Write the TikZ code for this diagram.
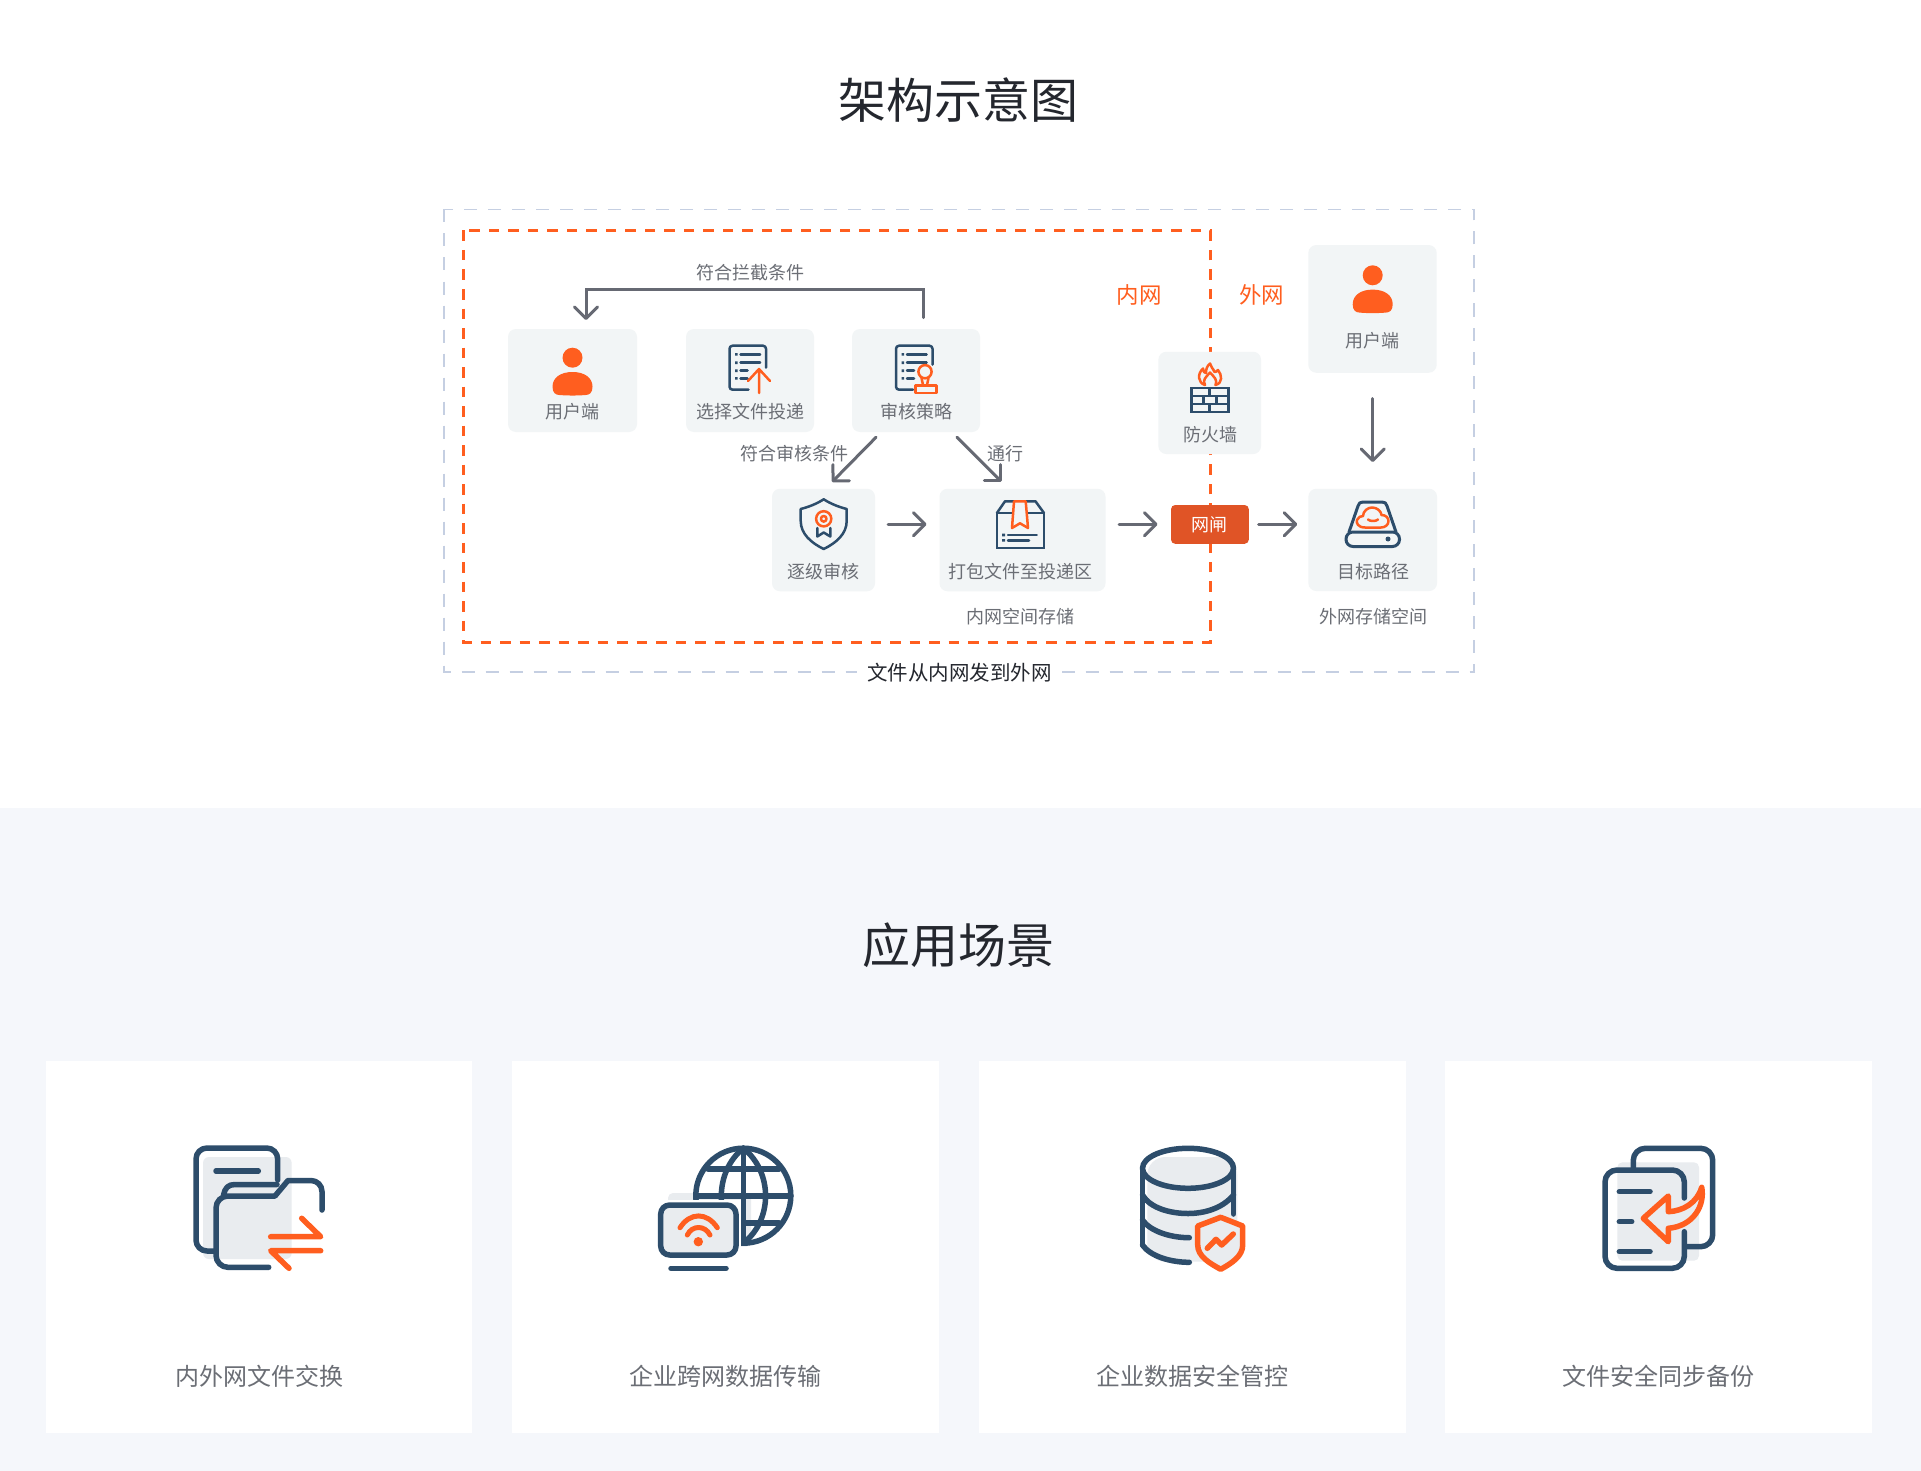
\documentclass[tikz,border=0pt]{standalone}
\usepackage{fontspec}
\setmainfont{Noto Sans CJK SC}
\usetikzlibrary{arrows.meta}
\definecolor{navy}{HTML}{2D4D6B}
\definecolor{org}{HTML}{FF5E1F}
\definecolor{gatec}{HTML}{E05426}
\definecolor{boxc}{HTML}{F2F5F6}
\definecolor{linec}{HTML}{666973}
\definecolor{txtc}{HTML}{6B6E75}
\definecolor{darkc}{HTML}{24272E}
\definecolor{pagec}{HTML}{F5F7FB}
\definecolor{greyc}{HTML}{E9ECEF}
\definecolor{outc}{HTML}{C5CFE2}
\tikzset{
  boxn/.style={fill=boxc,rounded corners=8pt,inner sep=0pt},
  lab/.style={text=txtc,inner sep=0pt,font=\fontsize{18}{22}\selectfont},
  ttl/.style={text=darkc,inner sep=0pt,font=\fontsize{48}{56}\selectfont},
  nettxt/.style={text=org,inner sep=0pt,font=\fontsize{22.5}{26}\selectfont},
  cardn/.style={fill=white,inner sep=0pt,minimum width=426.6pt,minimum height=372pt},
  cardt/.style={text=txtc,inner sep=0pt,font=\fontsize{24}{28}\selectfont},
  conn/.style={draw=linec,line width=3pt,-{Straight Barb[length=11.5pt,width=23pt,round]},line cap=round},
  ns/.style={draw=navy,line width=2.5pt,line cap=round,line join=round},
  os/.style={draw=org,line width=2.5pt,line cap=round,line join=round},
  nb/.style={draw=navy,line width=5.5pt,line cap=round,line join=round},
  ob/.style={draw=org,line width=5.5pt,line cap=round,line join=round},
}
\newcommand{\personicon}[2]{%
  \fill[org] (#1,#2) circle (10);
  \begin{scope}[shift={(#1,#2)}]
  \fill[org] (-20,29) .. controls (-20,20) and (-12,14.3) .. (0,14.3) .. controls (12,14.3) and (20,20) .. (20,29) .. controls (20,35) and (17,37.3) .. (13,37.3) .. controls (5,38) and (-5,38) .. (-13,37.3) .. controls (-17,37.3) and (-20,35) .. (-20,29) -- cycle;
  \end{scope}}
\newcommand{\docicon}[4]{%
  \begin{scope}[shift={(#1,#2)}]
  \draw[ns,rounded corners=3pt] (36.5,#3) -- (36.5,0) -- (0,0) -- (0,44) -- (#4,44);
  \draw[ns] (11,8.6) -- (30.6,8.6) (11,17) -- (30.6,17) (11,25) -- (18,25) (11,32.6) -- (18,32.6);
  \fill[navy] (5.5,7.3) rectangle +(2.6,2.6) (5.5,15.7) rectangle +(2.6,2.6) (5.5,23.7) rectangle +(2.6,2.6) (5.5,31.3) rectangle +(2.6,2.6);
  \end{scope}}
\begin{document}
\begin{tikzpicture}[x=1pt,y=-1pt]
\useasboundingbox (0,0) rectangle (1921,1471);
\fill[white] (0,0) rectangle (1921,1471);
\fill[pagec] (0,807.5) rectangle (1921,1471);
% titles
\node[ttl] (t1) at (958,100.5) {架构示意图};
\node[ttl] (t2) at (958,945) {应用场景};
% dashed frames
\draw[outc,line width=1.6pt,dash pattern=on 13pt off 11pt] (444,209.5) rectangle (1474,672);
\draw[org,line width=2.5pt,dash pattern=on 10.5pt off 9pt] (463.5,230.5) rectangle (1210.3,642.3);
\node[fill=white,text=darkc,inner sep=0pt,minimum width=205pt,minimum height=20pt,font=\fontsize{20.5}{26}\selectfont] (cap) at (959.5,672.5) {文件从内网发到外网};
% boxes
\node[boxn,minimum width=129pt,minimum height=103pt] (u1) at (572.5,380.5) {};
\node[boxn,minimum width=128pt,minimum height=103pt] (sel) at (750,380.5) {};
\node[boxn,minimum width=128pt,minimum height=103pt] (aud) at (916,380.5) {};
\node[boxn,minimum width=103pt,minimum height=102.5pt] (lev) at (823.5,540) {};
\node[boxn,minimum width=166pt,minimum height=102.5pt] (pack) at (1022.5,540) {};
\node[boxn,minimum width=102.7pt,minimum height=102.3pt] (fw) at (1209.7,402.9) {};
\node[boxn,minimum width=128.4pt,minimum height=127.7pt] (u2) at (1372.5,308.9) {};
\node[boxn,minimum width=128.7pt,minimum height=102.3pt] (dest) at (1372.7,539.9) {};
\node[fill=gatec,rounded corners=4pt,inner sep=0pt,minimum width=77.7pt,minimum height=38.7pt,text=white,font=\fontsize{18}{22}\selectfont] (gate) at (1209.9,524.4) {\raisebox{-1pt}{网闸}};
% box labels
\node[lab] (lu1) at (572.5,411.7) {用户端};
\node[lab] (lsel) at (750,412) {选择文件投递};
\node[lab] (laud) at (916,412) {审核策略};
\node[lab] (llev) at (823.5,571.7) {逐级审核};
\node[lab] (lpack) at (1020,571.7) {打包文件至投递区};
\node[lab] (lfw) at (1210,434.3) {防火墙};
\node[lab] (lu2) at (1372.7,341) {用户端};
\node[lab] (ldest) at (1373,571.7) {目标路径};
\node[lab] (s1) at (1020,616.7) {内网空间存储};
\node[lab] (s2) at (1373,616.7) {外网存储空间};
\node[lab] (c1) at (750,272.3) {符合拦截条件};
\node[lab] (c2) at (794,453.3) {符合审核条件};
\node[lab] (c3) at (1005,453.3) {通行};
\node[nettxt] (nei) at (1139.3,295) {内网};
\node[nettxt] (wai) at (1261.7,295) {外网};
% connector ends
\coordinate (a1s) at (923.6,317.7);
\coordinate (a1m) at (923.6,289);
\coordinate (a1n) at (586,289);
\coordinate (a1e) at (586,320);
\coordinate (a2s) at (876,437.3);
\coordinate (a2e) at (832,482);
\coordinate (a3s) at (957,437.3);
\coordinate (a3e) at (1001.7,482);
\coordinate (a4s) at (888,524.3);
\coordinate (a4e) at (926.5,524.3);
\coordinate (a5s) at (1119,524.3);
\coordinate (a5e) at (1157.5,524.3);
\coordinate (a6s) at (1258.7,524.3);
\coordinate (a6e) at (1297.2,524.3);
\coordinate (a7s) at (1372.7,398.5);
\coordinate (a7e) at (1372.7,462);
\draw[conn] (a1s) -- (a1m) -- (a1n) -- (a1e);
\draw[conn] (a2s) -- (a2e);
\draw[conn] (a3s) -- (a3e);
\draw[conn] (a4s) -- (a4e);
\draw[conn] (a5s) -- (a5e);
\draw[conn] (a6s) -- (a6e);
\draw[conn] (a7s) -- (a7e);
% person icons
\personicon{572.5}{357.7}
\personicon{1372.7}{275.3}
% select icon
\docicon{729.5}{345.7}{22}{19}
\draw[os] (759,393) -- (759,369) (748,381) -- (759,369) -- (770,381);
% audit icon
\docicon{896}{345.7}{19}{17}
\draw[os,fill=boxc] (925,371.7) circle (6.6);
\draw[os] (921.5,378) -- (923,385) (928.5,378) -- (927,385);
\draw[os] (915.5,385.5) rectangle (936.5,393);
% shield
\draw[ns] (823.7,499.3) .. controls (831,504) and (839,507) .. (846.7,509) -- (846.7,521) .. controls (846.7,534) and (836,543) .. (823.7,549) .. controls (811.4,543) and (800.7,534) .. (800.7,521) -- (800.7,509) .. controls (808.4,507) and (816.4,504) .. (823.7,499.3) -- cycle;
\draw[ns] (817.3,528) -- (817.3,536.5) -- (823.7,532.5) -- (830.3,536.5) -- (830.3,528);
\draw[os] (823.7,518.8) circle (7.6);
\draw[os] (823.7,518.8) circle (2.8);
% package
\draw[ns,line join=miter] (996.9,513) rectangle (1044,548);
\draw[ns] (996.9,513) -- (1005,501.3) -- (1035.5,501.3) -- (1044,513);
\draw[ns] (1008,535) -- (1036.7,535) (1008,540.3) -- (1029,540.3);
\fill[navy] (1002,533.7) rectangle +(3,2.6) (1002,539) rectangle +(3,2.6);
\draw[os,fill=boxc] (1014,501.3) -- (1012,528) -- (1020,523.3) -- (1028,528) -- (1025.7,501.3) -- cycle;
% firewall
\draw[ns,line join=miter] (1191.5,387.8) rectangle (1228.7,412);
\draw[ns,line cap=butt] (1191.5,395.8) -- (1228.7,395.8) (1191.5,404) -- (1228.7,404) (1209.5,387.8) -- (1209.5,395.8) (1203.3,395.8) -- (1203.3,404) (1216.7,395.8) -- (1216.7,404) (1209.5,404) -- (1209.5,412);
\draw[os] (1205,385) .. controls (1198,383) and (1197,374) .. (1203,368.5) .. controls (1203.5,372) and (1204.5,373) .. (1206,373) .. controls (1206,369) and (1207,366) .. (1210,363.5) .. controls (1210.5,367) and (1213,368) .. (1214.5,372) .. controls (1215.5,372) and (1217,371.5) .. (1218,370) .. controls (1222,375) and (1223,383) .. (1215.5,385);
\draw[os] (1205,385) .. controls (1202,380) and (1206,377) .. (1210,372.5) .. controls (1214,377) and (1218,380) .. (1215.5,385);
% storage
\draw[draw=navy,line width=3pt,line join=round,line cap=round] (1349,532) -- (1358,506) .. controls (1359,503) and (1360,502) .. (1363,502) -- (1382,502) .. controls (1385,502) and (1386,503) .. (1387,506) -- (1396,532);
\draw[draw=navy,line width=3pt,rounded corners=7pt] (1346,532) rectangle (1399.5,546.5);
\fill[navy] (1388,539) circle (2.5);
\draw[os] (1365,527.5) .. controls (1358,527.5) and (1356,523) .. (1357,520) .. controls (1358,517) and (1361,516) .. (1363,516) .. controls (1363,511) and (1368,507.5) .. (1372,507.5) .. controls (1377,507.5) and (1381,511) .. (1381.5,515) .. controls (1386,515) and (1388.5,518) .. (1388.5,521) .. controls (1388.5,525) and (1385,527.5) .. (1381,527.5) -- cycle;
\draw[os] (1368,519.5) .. controls (1370,521.5) and (1376,521.5) .. (1378,519.5);
% cards
\node[cardn] (k1) at (259,1247) {};
\node[cardn] (k2) at (725.2,1247) {};
\node[cardn] (k3) at (1192.2,1247) {};
\node[cardn] (k4) at (1658.7,1247) {};
\node[cardt] (kt1) at (259,1376) {内外网文件交换};
\node[cardt] (kt2) at (725.5,1376) {企业跨网数据传输};
\node[cardt] (kt3) at (1192.5,1376) {企业数据安全管控};
\node[cardt] (kt4) at (1658.7,1376) {文件安全同步备份};
% scenario icon 1
\fill[greyc,rounded corners=6pt] (203,1157) rectangle (291.7,1259);
\draw[nb,rounded corners=11pt] (277.7,1180) -- (277.7,1148) -- (196,1148) -- (196,1251) -- (214,1251);
\draw[nb] (216,1171) -- (258.3,1171);
\draw[nb] (223.5,1195) .. controls (225,1188) and (228,1184.5) .. (235,1184.5) -- (277,1184.5);
\draw[nb,rounded corners=12pt] (268.7,1267.3) -- (216,1267.3) -- (216,1196) [sharp corners] -- (275,1196) -- (288,1180.5) [rounded corners=11pt] -- (322,1180.5) -- (322,1210);
\draw[ob] (270.7,1236.7) -- (320.7,1236.7) -- (301.7,1218.3);
\draw[ob] (320.7,1250.7) -- (270.7,1250.7) -- (289,1268.3);
% scenario icon 2
\fill[greyc,rounded corners=5pt] (668,1193) rectangle (751,1246.7);
\draw[nb] (743.3,1195.7) circle (47.5);
\draw[nb] (743.3,1148.2) -- (743.3,1243.2);
\draw[nb] (743.3,1148.2) .. controls (714,1172) and (714,1220) .. (743.3,1243.2);
\draw[nb] (743.3,1148.2) .. controls (773,1172) and (773,1220) .. (743.3,1243.2);
\draw[nb] (708,1169) -- (779,1169) (696,1196) -- (790.8,1196) (708,1223) -- (779,1223);
\fill[white] (655,1200) rectangle (741,1260);
\fill[greyc,rounded corners=6pt] (661,1205) rectangle (736,1255);
\draw[nb,rounded corners=9pt] (660.7,1205) rectangle (736,1255);
\draw[nb] (671,1268.3) -- (726,1268.3);
\fill[org] (698.3,1241.7) circle (4.7);
\draw[ob,line width=5pt] (680,1227.7) .. controls (690,1212) and (707,1212) .. (717.3,1227.7);
\draw[ob,line width=5pt] (687.3,1235) .. controls (692,1225) and (705,1225) .. (710,1235);
% scenario icon 3
\fill[greyc,rounded corners=18pt] (1147.3,1157) rectangle (1237.3,1261.7);
\draw[nb] (1188,1168.3) ellipse (45.5 and 20);
\draw[nb] (1142.5,1168.3) -- (1142.5,1245);
\draw[nb] (1233.5,1168.3) -- (1233.5,1214);
\draw[nb] (1142.5,1195) .. controls (1150,1208) and (1170,1213.5) .. (1188,1213.5) .. controls (1203,1213.5) and (1222,1209) .. (1233.5,1195);
\draw[nb] (1142.5,1220) .. controls (1150,1231) and (1170,1237.7) .. (1189.3,1237.7);
\draw[nb] (1142.5,1245) .. controls (1150,1256) and (1170,1262.3) .. (1189.3,1262.3);
\draw[ob,fill=greyc,preaction={fill=white}] (1220.7,1217.3) -- (1242.7,1226) -- (1242.7,1245) .. controls (1242.7,1256) and (1232,1263) .. (1220.7,1269.3) .. controls (1209,1263) and (1197.7,1256) .. (1197.7,1245) -- (1197.7,1226) -- cycle;
\draw[ob] (1207.3,1248.3) -- (1216,1239.3) -- (1221.7,1245) -- (1233.3,1234);
% scenario icon 4
\fill[greyc,rounded corners=5pt] (1617.3,1162.3) rectangle (1699,1260.7);
\draw[nb,rounded corners=12pt] (1633.3,1168.3) -- (1633.3,1148.3) -- (1712.7,1148.3) -- (1712.7,1246.7) -- (1686.7,1246.7);
\draw[nb,rounded corners=12pt] (1684.3,1198) -- (1684.3,1170) -- (1605,1170) -- (1605,1268.3) -- (1684.3,1268.3) -- (1684.3,1231.7);
\draw[nb] (1619.3,1191.7) -- (1650,1191.7) (1619.3,1221.7) -- (1631.7,1221.7) (1619.3,1251.7) -- (1650,1251.7);
\draw[ob] (1643.3,1218.3) -- (1668.3,1196) -- (1668.3,1211.7) .. controls (1683,1211) and (1697,1203) .. (1701.7,1187.3) .. controls (1705,1205) and (1694,1226) .. (1668.3,1228.3) -- (1668.3,1241.7) -- cycle;
\end{tikzpicture}
\end{document}
